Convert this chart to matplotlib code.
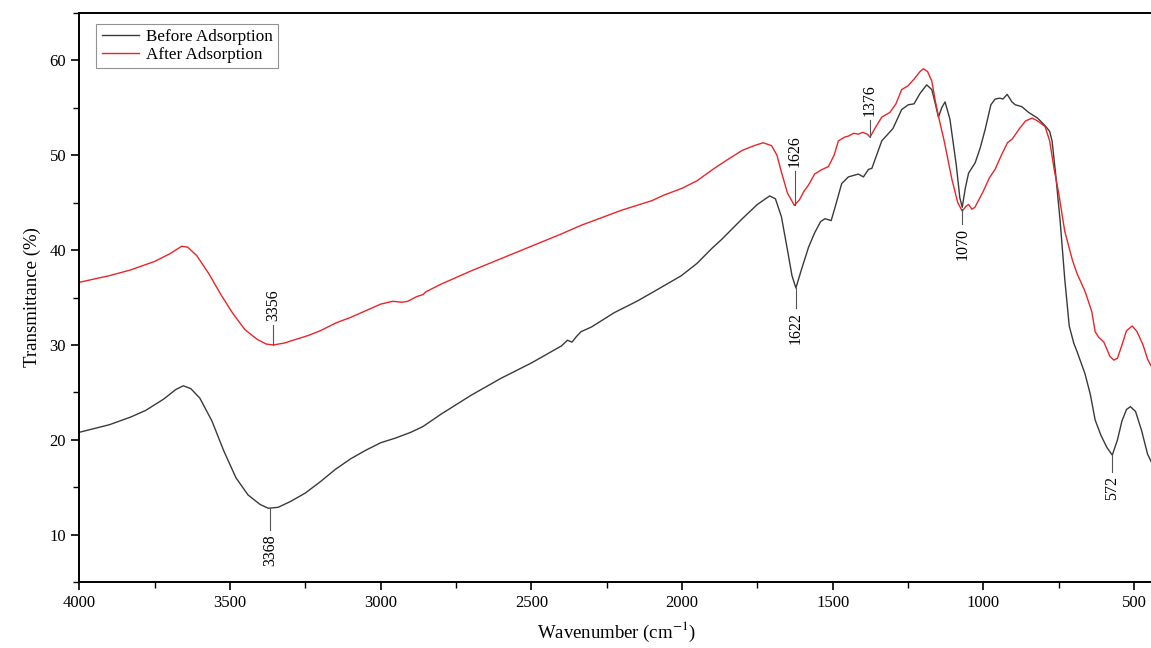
import matplotlib
matplotlib.use("Agg")
import matplotlib.pyplot as plt
from matplotlib.ticker import MultipleLocator

plt.rcParams['font.family'] = ['Liberation Serif', 'DejaVu Serif']
plt.rcParams['mathtext.fontset'] = 'stix'

before_wn = [4000, 3900, 3830, 3780, 3720, 3680, 3655, 3630, 3600, 3560, 3520, 3480, 3440, 3400,
             3373, 3340, 3300, 3250, 3200, 3150, 3100, 3050, 3000, 2950, 2900, 2860, 2800, 2750,
             2700, 2650, 2600, 2550, 2500, 2450, 2400, 2380, 2365, 2350, 2335, 2300, 2225, 2150,
             2100, 2002, 1950, 1900, 1869, 1800, 1750, 1709, 1690, 1670, 1650, 1635, 1622, 1605,
             1580, 1560, 1540, 1525, 1505, 1493, 1470, 1448, 1415, 1398, 1381, 1370, 1337, 1300,
             1271, 1249, 1230, 1210, 1188, 1171, 1160, 1149, 1138, 1127, 1111, 1090, 1078, 1070,
             1060, 1049, 1027, 1010, 994, 975, 961, 945, 935, 921, 905, 894, 872, 850, 820, 795,
             780, 772, 760, 745, 730, 715, 700, 689, 663, 645, 629, 610, 590, 572, 555, 540, 525,
             512, 495, 475, 455, 440, 430]
before_t = [20.8, 21.6, 22.4, 23.1, 24.3, 25.3, 25.7, 25.4, 24.4, 22.0, 18.8, 16.0, 14.2, 13.2,
            12.8, 12.9, 13.5, 14.4, 15.6, 16.9, 18.0, 18.9, 19.7, 20.2, 20.8, 21.4, 22.7, 23.7,
            24.7, 25.6, 26.5, 27.3, 28.1, 29.0, 29.9, 30.5, 30.3, 30.9, 31.4, 31.9, 33.4, 34.6,
            35.5, 37.3, 38.6, 40.2, 41.1, 43.3, 44.8, 45.7, 45.4, 43.5, 40.0, 37.3, 36.0, 37.8,
            40.3, 41.8, 43.0, 43.3, 43.1, 44.4, 47.0, 47.7, 48.0, 47.7, 48.5, 48.6, 51.5, 52.8,
            54.8, 55.3, 55.4, 56.5, 57.4, 56.9, 55.5, 54.0, 55.0, 55.6, 53.8, 49.0, 45.5, 44.5,
            46.5, 48.1, 49.2, 50.8, 52.7, 55.3, 55.9, 56.0, 55.9, 56.4, 55.6, 55.3, 55.1, 54.5,
            53.9, 53.1, 52.5, 51.5, 48.0, 43.0, 37.0, 32.0, 30.2, 29.3, 27.0, 24.8, 22.1, 20.5,
            19.2, 18.4, 20.0, 22.0, 23.2, 23.5, 23.0, 21.0, 18.5, 17.5, 17.1]

after_wn = [4000, 3900, 3830, 3750, 3700, 3660, 3640, 3610, 3570, 3530, 3490, 3450, 3410, 3380,
            3356, 3320, 3280, 3240, 3200, 3150, 3100, 3050, 3000, 2960, 2930, 2910, 2880, 2860,
            2850, 2800, 2750, 2700, 2600, 2500, 2400, 2335, 2200, 2100, 2059, 2000, 1950, 1893,
            1850, 1800, 1760, 1731, 1703, 1685, 1670, 1650, 1627, 1610, 1595, 1581, 1560, 1540,
            1514, 1495, 1481, 1460, 1448, 1430, 1415, 1400, 1385, 1376, 1360, 1337, 1310, 1290,
            1271, 1250, 1230, 1210, 1199, 1185, 1171, 1160, 1149, 1130, 1104, 1085, 1070, 1058,
            1049, 1038, 1028, 1000, 980, 961, 940, 920, 904, 880, 860, 838, 820, 795, 780, 765,
            750, 730, 705, 690, 662, 640, 629, 617, 600, 580, 567, 555, 540, 525, 506, 490, 470,
            455, 440, 430]
after_t = [36.6, 37.3, 37.9, 38.8, 39.6, 40.4, 40.3, 39.4, 37.5, 35.3, 33.3, 31.6, 30.6, 30.1,
           30.0, 30.2, 30.6, 31.0, 31.5, 32.3, 32.9, 33.6, 34.3, 34.6, 34.5, 34.6, 35.1, 35.3,
           35.6, 36.4, 37.1, 37.8, 39.1, 40.4, 41.7, 42.6, 44.2, 45.2, 45.8, 46.5, 47.3, 48.6,
           49.5, 50.5, 51.0, 51.3, 51.0, 50.0, 48.2, 46.0, 44.7, 45.3, 46.2, 46.8, 48.0, 48.4,
           48.8, 50.0, 51.5, 51.9, 52.0, 52.3, 52.2, 52.4, 52.2, 51.9, 52.8, 54.0, 54.5, 55.4,
           56.9, 57.3, 58.0, 58.8, 59.1, 58.8, 57.8, 55.8, 54.1, 51.5, 47.4, 45.0, 44.1, 44.6,
           44.8, 44.3, 44.5, 46.2, 47.6, 48.5, 50.0, 51.3, 51.7, 52.8, 53.6, 53.9, 53.6, 53.0,
           51.5, 48.5, 46.0, 42.0, 39.0, 37.6, 35.6, 33.5, 31.4, 30.8, 30.3, 28.8, 28.4, 28.6,
           30.0, 31.5, 32.0, 31.4, 30.0, 28.5, 27.6, 27.3]

# peak annotations: label, wavenumber, value at the curve, direction
ann_labels = ['3356', '3368', '1626', '1622', '1376', '1070', '572']
ann_wn = [3356, 3368, 1626, 1622, 1376, 1070, 572]
ann_val = [30.0, 12.8, 44.7, 36.0, 51.9, 44.3, 18.4]
ann_dir = ['up', 'down', 'up', 'down', 'up', 'down', 'down']
line_len = {'3356': 2.1, '3368': 2.3, '1626': 3.6, '1622': 2.1, '1376': 1.8, '1070': 1.6, '572': 1.8}

fig = plt.figure(figsize=(11.51, 6.48), dpi=100)
ax = fig.add_axes([79.3 / 1151, 65.7 / 648, (1151 - 79.3) / 1151 + 0.002, (582.3 - 12.7) / 648])

ax.plot(before_wn, before_t, color='#3a3a3a', lw=1.0, label='Before Adsorption')
ax.plot(after_wn, after_t, color='#e8262a', lw=1.0, label='After Adsorption')

for lab, wn, v, d in zip(ann_labels, ann_wn, ann_val, ann_dir):
    L = line_len[lab]
    if d == 'up':
        ax.plot([wn, wn], [v, v + L], color='#555555', lw=0.8)
        ax.text(wn, v + L + 0.4, lab, rotation=90, ha='center', va='bottom', fontsize=11.5)
    else:
        ax.plot([wn, wn], [v, v - L], color='#555555', lw=0.8)
        ax.text(wn, v - L - 0.4, lab, rotation=90, ha='center', va='top', fontsize=11.5)

ax.set_xlim(4000, 436)
ax.set_ylim(5, 65)
ax.xaxis.set_major_locator(MultipleLocator(500))
ax.xaxis.set_minor_locator(MultipleLocator(250))
ax.yaxis.set_major_locator(MultipleLocator(10))
ax.yaxis.set_minor_locator(MultipleLocator(5))
ax.set_yticks([10, 20, 30, 40, 50, 60])
ax.tick_params(which='major', direction='out', length=6, width=1.2, labelsize=12)
ax.tick_params(which='minor', direction='out', length=4, width=1.0)
ax.spines['right'].set_visible(False)
for s in ['left', 'bottom', 'top']:
    ax.spines[s].set_linewidth(1.4)

ax.set_xlabel('Wavenumber (cm$^{-1}$)', fontsize=13.5, labelpad=6)
ax.set_ylabel('Transmittance (%)', fontsize=13.5, labelpad=6)

leg = ax.legend(loc='upper left', bbox_to_anchor=(0.016, 0.981), fontsize=12.3, frameon=True,
                fancybox=False, edgecolor='#777777', handlelength=2.2, handletextpad=0.4,
                borderpad=0.3, labelspacing=0.15, borderaxespad=0)
leg.get_frame().set_linewidth(0.8)

fig.savefig('out.png', dpi=100)
